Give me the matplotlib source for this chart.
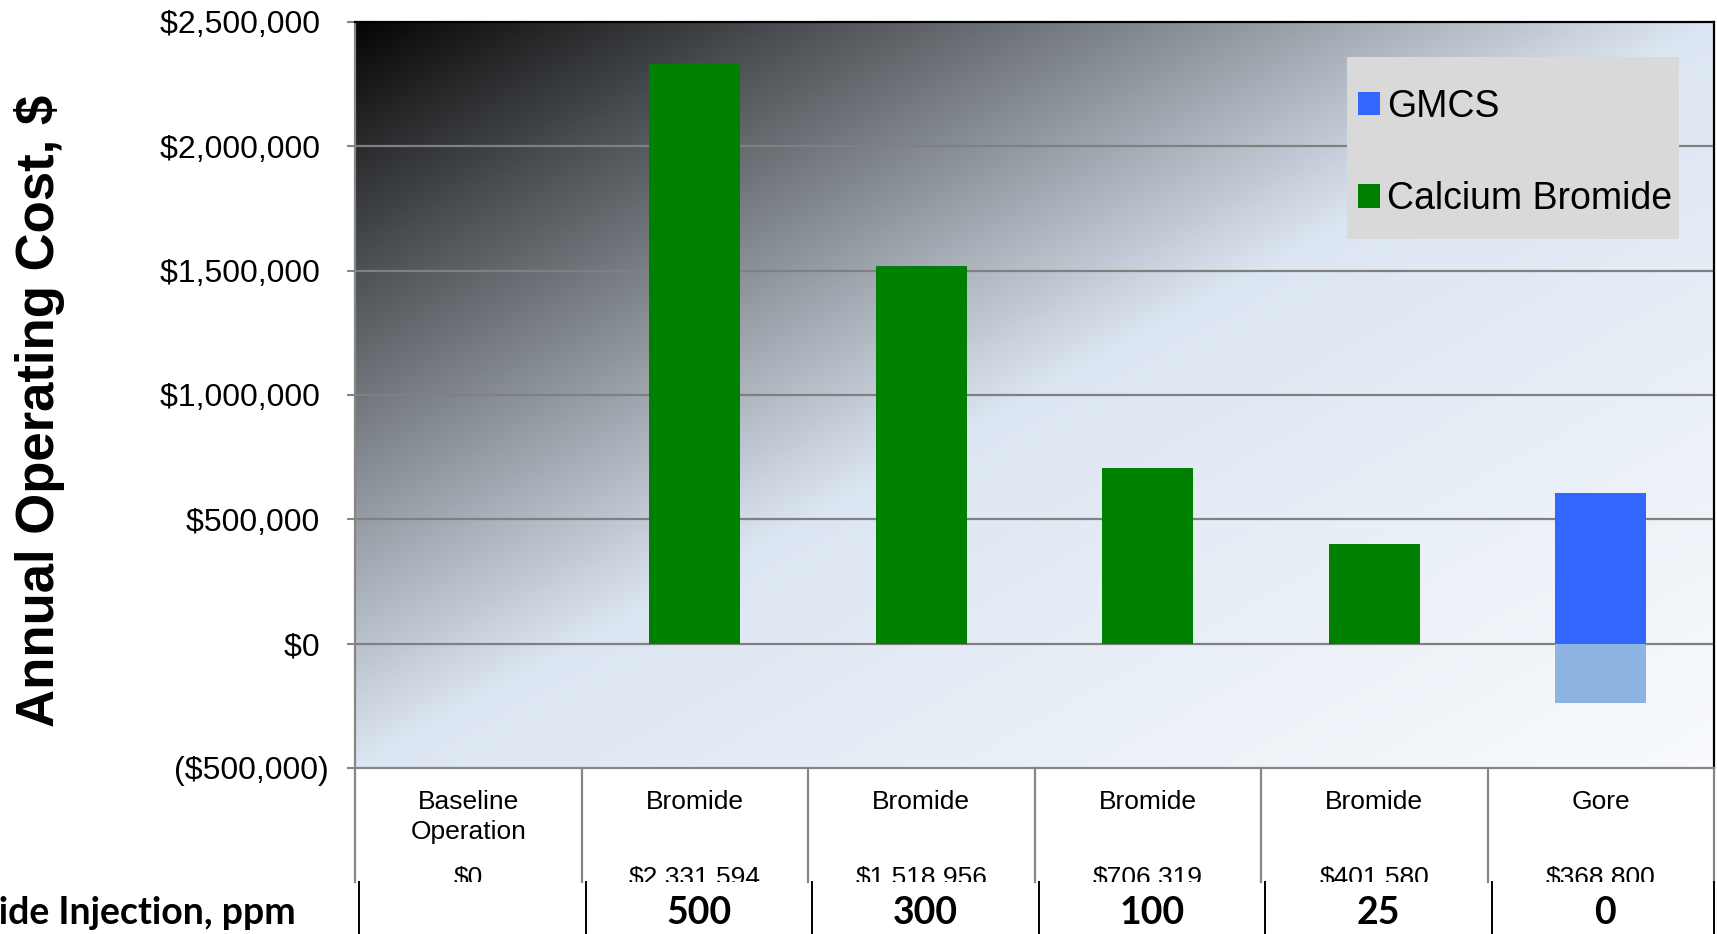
import numpy as np
import matplotlib.pyplot as plt
from matplotlib.lines import Line2D
from matplotlib.patches import Patch, Rectangle
from matplotlib.transforms import Bbox, TransformedBbox, blended_transform_factory

categories = ["Baseline\nOperation", "Bromide", "Bromide", "Bromide", "Bromide", "Gore"]
bromide_cost = [0, 2331594, 1518956, 706319, 401580, 0]
gmcs_cost = [0, 0, 0, 0, 0, 607000]
gmcs_credit = [0, 0, 0, 0, 0, -238200]
net_cost = [0, 2331594, 1518956, 706319, 401580, 368800]
ppm = ["", "500", "300", "100", "25", "0"]
yticks = [-500000, 0, 500000, 1000000, 1500000, 2000000, 2500000]

W, H = 1717, 934
fig = plt.figure(figsize=(W / 100, H / 100), dpi=100)
fig.patch.set_facecolor("white")

# axes box in pixels: left 355, right 1714, top 22, bottom 768
ax = fig.add_axes([355 / W, 1 - 768 / H, 1359 / W, 746 / H])

# diagonal gradient background (dark top-left -> pale blue -> near white)
n = 400
u = np.linspace(0, 1, n)
v = np.linspace(0, 1, n)
U, V = np.meshgrid(u, v)
t = (U + V) / 2  # V measured from top
stops_t = [0.0, 0.5, 1.0]
stops_c = np.array([[0.02, 0.02, 0.02], [0.863, 0.902, 0.949], [0.975, 0.982, 0.99]])
img = np.zeros((n, n, 3))
for k in range(3):
    img[..., k] = np.interp(t, stops_t, stops_c[:, k])
ax.imshow(img, extent=[0, 1, 0, 1], transform=ax.transAxes, aspect="auto", zorder=0)

x = np.arange(len(categories))
ax.set_xlim(-0.5, len(categories) - 0.5)
ax.set_ylim(-500000, 2500000)

for yv in yticks[1:-1]:
    ax.axhline(yv, color="#808080", lw=1.6, zorder=1)

bw = 0.4
ax.bar(x, bromide_cost, width=bw, color="#008000", zorder=2)
ax.bar(x, gmcs_cost, width=bw, color="#3366ff", zorder=2)
ax.bar(x, gmcs_credit, width=bw, color="#8db3e2", zorder=2)

ax.set_yticks(yticks)
labels = []
for yv in yticks:
    if yv < 0:
        labels.append("(${:,})".format(-yv))
    else:
        labels.append("${:,} ".format(yv))
ax.set_yticklabels(labels, fontsize=23, family="Liberation Sans")
ax.tick_params(axis="y", direction="out", length=6, width=1.5, color="#868686", pad=13)
ax.set_xticks([])

for side in ["top", "right"]:
    ax.spines[side].set_color("black")
    ax.spines[side].set_linewidth(1.6)
for side in ["left", "bottom"]:
    ax.spines[side].set_color("#868686")
    ax.spines[side].set_linewidth(1.6)

fig.text(40 / W, 1 - 411 / H, "Annual Operating Cost, $", rotation=90,
         ha="center", va="center", fontsize=38, fontweight="bold",
         family=["Liberation Sans Narrow", "Liberation Sans"])

# legend on a grey box
fig.add_artist(Rectangle((1347 / W, 1 - 239 / H), 332 / W, 182 / H,
                         transform=fig.transFigure, facecolor="#d9d9d9",
                         edgecolor="none", zorder=3))
handles = [Patch(facecolor="#3366ff", edgecolor="none", label="GMCS"),
           Patch(facecolor="#008000", edgecolor="none", label="Calcium Bromide")]
leg = fig.legend(handles=handles, loc="upper left",
                 bbox_to_anchor=(1358 / W, 1 - 89 / H), frameon=False,
                 prop={"family": "Liberation Sans", "size": 27},
                 handlelength=0.58, handleheight=0.58, handletextpad=0.2,
                 labelspacing=1.5, borderpad=0, borderaxespad=0)
leg.set_zorder(4)

# data table below the axes
tr = blended_transform_factory(ax.transData, fig.transFigure)
clip = TransformedBbox(Bbox([[0, 1 - 882 / H], [1, 1 - 768 / H]]), fig.transFigure)
for i, (cat, val) in enumerate(zip(categories, net_cost)):
    fig.text(i, 1 - 790 / H, cat, transform=tr, ha="center", va="top",
             fontsize=19, family="Liberation Sans", linespacing=1.3)
    t = fig.text(i, 1 - 878 / H, "${:,}".format(val), transform=tr, ha="center",
                 va="center", fontsize=19, family="Liberation Sans")
    t.set_clip_box(clip)
    t.set_clip_on(True)

for k in range(len(categories) + 1):
    xb = k - 0.5
    fig.add_artist(Line2D([xb, xb], [1 - 768 / H, 1 - 882 / H], transform=tr,
                          color="#868686", lw=1.6))

# injection row
off = 4 / 1359 * len(categories)
fig.text(296 / W, 1 - 913 / H, "Bromide Injection, ppm", ha="right", va="center",
         fontsize=27, fontweight="bold", family="Lato")
for i, p in enumerate(ppm):
    fig.text(i + off, 1 - 913 / H, p, transform=tr, ha="center", va="center",
             fontsize=27, fontweight="bold", family="Lato")
for k in range(len(categories) + 1):
    xb = k - 0.5 + (off if k < len(categories) else 0)
    fig.add_artist(Line2D([xb, xb], [1 - 882 / H, 0], transform=tr,
                          color="black", lw=1.4))

fig.savefig("out.png", dpi=100)
